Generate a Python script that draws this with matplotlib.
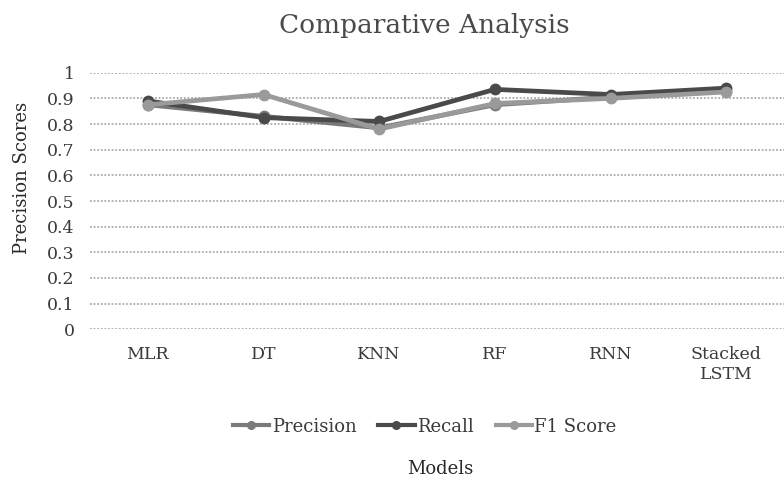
import matplotlib
matplotlib.use("Agg")
import matplotlib.pyplot as plt
from matplotlib.lines import Line2D

models = ["MLR", "DT", "KNN", "RF", "RNN", "Stacked\nLSTM"]
precision = [0.875, 0.830, 0.785, 0.875, 0.905, 0.930]
recall = [0.890, 0.825, 0.810, 0.935, 0.915, 0.940]
f1_score = [0.875, 0.915, 0.780, 0.880, 0.900, 0.925]
yticks = [0, 0.1, 0.2, 0.3, 0.4, 0.5, 0.6, 0.7, 0.8, 0.9, 1]
ytick_labels = ["0", "0.1", "0.2", "0.3", "0.4", "0.5", "0.6", "0.7", "0.8", "0.9", "1"]

plt.rcParams['font.family'] = ['DejaVu Serif']
fig = plt.figure(figsize=(7.84, 4.86), dpi=100)
ax = fig.add_axes([0.1148, 0.3224, 0.8852, 0.528])

x = list(range(len(models)))
series = [
    ("Precision", precision, "#7a7a7a"),
    ("Recall", recall, "#4a4a4a"),
    ("F1 Score", f1_score, "#9a9a9a"),
]
for name, vals, col in series:
    ax.plot(x, vals, color=col, lw=3.4, marker="o", ms=7.5, mfc=col, mec=col,
            label=name, solid_capstyle="round")

ax.set_xlim(-0.5, len(models) - 0.5)
ax.set_ylim(0, 1)
ax.set_yticks(yticks)
ax.set_yticklabels(ytick_labels, fontsize=12.5, color="#3a3a3a")
ax.set_xticks(x)
ax.set_xticklabels(models, fontsize=12.5, color="#3a3a3a", linespacing=1.25)
ax.tick_params(axis="both", length=0)
ax.tick_params(axis="x", pad=12)
ax.tick_params(axis="y", pad=11)
ax.grid(axis="y", color="#ababab", lw=1.3, ls=(0, (1, 1)))
ax.set_axisbelow(True)
for s in ax.spines.values():
    s.set_visible(False)

fig.text(0.541, 0.947, "Comparative Analysis", ha="center", va="center",
         fontsize=19, color="#4a4a4a")
fig.text(0.028, 0.633, "Precision Scores", rotation=90, ha="center", va="center",
         fontsize=13, color="#2a2a2a")
fig.text(0.561, 0.034, "Models", ha="center", va="center", fontsize=13, color="#2a2a2a")

handles = [Line2D([0], [0], color=c, lw=3.0, marker="o", ms=5.5) for _, _, c in series]
fig.legend(handles, [n for n, _, _ in series], loc="center", bbox_to_anchor=(0.542, 0.122),
           ncol=3, frameon=False, fontsize=13, handlelength=2.0, handletextpad=0.15,
           columnspacing=1.2, labelcolor="#3a3a3a")

fig.savefig("out.png", dpi=100)
